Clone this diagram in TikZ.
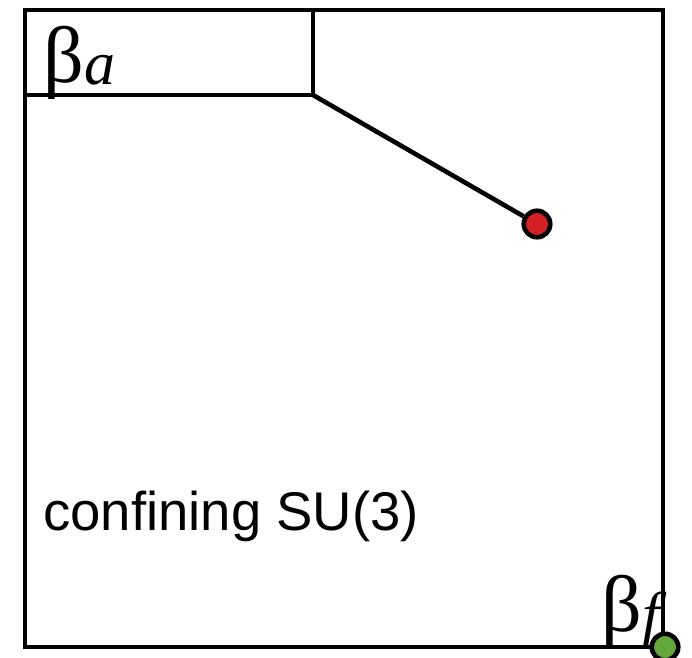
\documentclass[tikz,border=0pt]{standalone}
\usepackage{fontspec}
\setmainfont{Liberation Sans}
\newfontfamily\greekfont{Liberation Serif}
\usepackage{tikz}
\definecolor{dotred}{RGB}{214,32,39}
\definecolor{dotgreen}{RGB}{98,168,58}

\begin{document}
\begin{tikzpicture}[x=1pt, y=-1pt, line width=4.6pt,
                    dot/.style={circle, draw=black, line width=4.6pt, minimum size=26.5pt, inner sep=0pt},
                    coupling/.style={inner sep=0pt, anchor=base west, font=\greekfont\fontsize{80}{80}\selectfont}]
  \useasboundingbox (0,0) rectangle (692,657);
  \coordinate (nw) at (25,10);
  \coordinate (se) at (663,647);
  \coordinate (corner) at (313,95);
  % outer box and the small box
  \draw (nw) rectangle (se);
  \draw (nw |- corner) -- (corner) -- (corner |- nw);
  % points
  \node[dot, fill=dotred] (red) at (537,224) {};
  \draw (corner) -- (red);
  \node[dot, fill=dotgreen] (green) at (665,647) {};
  % labels
  \node[coupling] (ba) at (41,82) {β\raisebox{-2pt}{\itshape\fontsize{62}{62}\selectfont a}};
  \node[coupling] (bf) at (599,631) {β\raisebox{-4pt}{\itshape\fontsize{62}{62}\selectfont f}};
  \node[inner sep=0pt, anchor=base west, font=\fontsize{54.5}{54.5}\selectfont] (conf) at (41,530) {confining SU(3)};
\end{tikzpicture}
\end{document}
